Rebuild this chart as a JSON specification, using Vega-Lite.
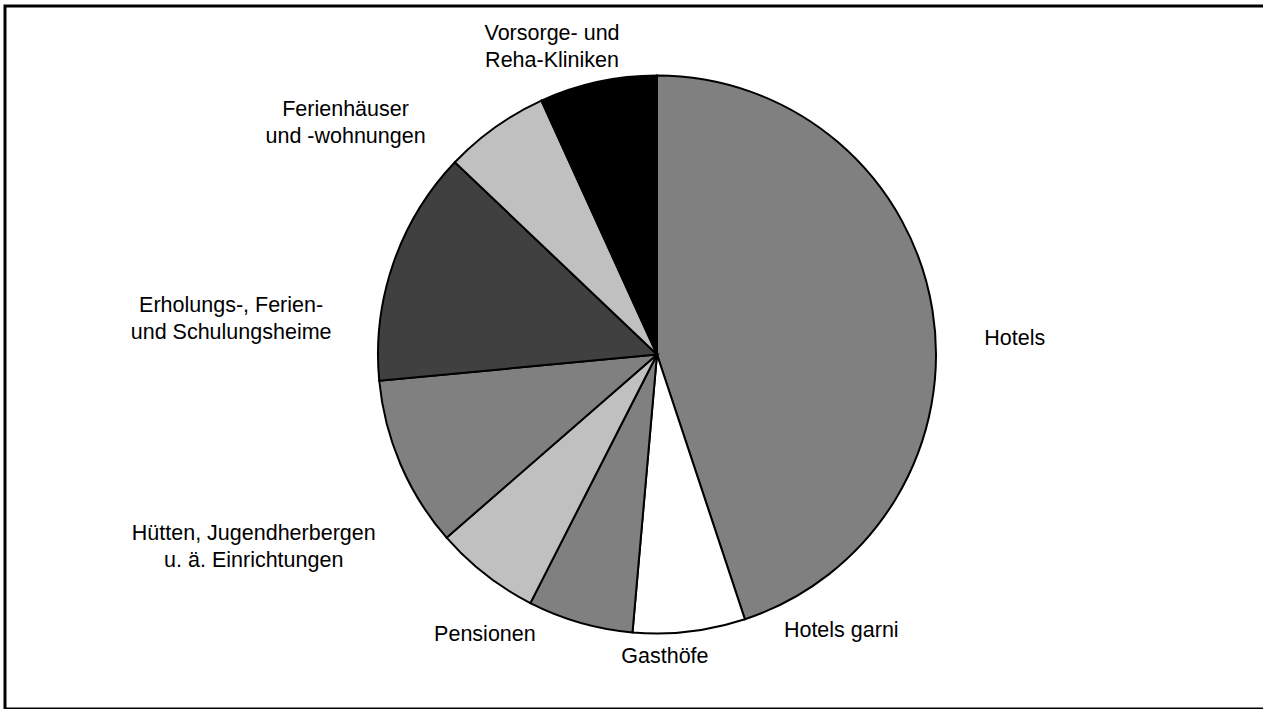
{
  "$schema": "https://vega.github.io/schema/vega-lite/v6.json",
  "width": 1258,
  "height": 703,
  "autosize": {"type": "none"},
  "padding": {"left": 5, "top": 6, "right": 0, "bottom": 0},
  "background": "white",
  "config": {"view": {"stroke": null}},
  "datasets": {
    "anteile": [
      {"Nr": 1, "Art": "Hotels", "Anteil": 44.9},
      {"Nr": 2, "Art": "Hotels garni", "Anteil": 6.5},
      {"Nr": 3, "Art": "Gasthöfe", "Anteil": 6.1},
      {"Nr": 4, "Art": "Pensionen", "Anteil": 6.1},
      {"Nr": 5, "Art": "Hütten, Jugendherbergen\nu. ä. Einrichtungen", "Anteil": 9.9},
      {"Nr": 6, "Art": "Erholungs-, Ferien-\nund Schulungsheime", "Anteil": 13.6},
      {"Nr": 7, "Art": "Ferienhäuser\nund -wohnungen", "Anteil": 6.1},
      {"Nr": 8, "Art": "Vorsorge- und\nReha-Kliniken", "Anteil": 6.8}
    ],
    "rahmen": [{"Rahmen": 1}]
  },
  "layer": [
    {
      "data": {"name": "rahmen"},
      "mark": {"type": "rect", "fill": null, "stroke": "black", "strokeWidth": 3},
      "encoding": {
        "x": {"value": 0},
        "x2": {"value": {"expr": "width + 10"}},
        "y": {"value": 0},
        "y2": {"value": "height"}
      }
    },
    {
      "data": {"name": "anteile"},
      "mark": {
        "type": "arc",
        "outerRadius": 279,
        "stroke": "black",
        "strokeWidth": 2,
        "x": {"expr": "width/2 + 23"},
        "y": {"expr": "height/2 - 3"}
      },
      "encoding": {
        "theta": {"field": "Anteil", "type": "quantitative", "stack": true},
        "order": {"field": "Nr", "type": "quantitative"},
        "color": {
          "field": "Nr",
          "type": "ordinal",
          "scale": {
            "domain": [1, 2, 3, 4, 5, 6, 7, 8],
            "range": ["#808080", "#ffffff", "#808080", "#c0c0c0", "#808080", "#404040", "#c0c0c0", "#000000"]
          },
          "legend": null
        }
      }
    },
    {
      "data": {"name": "anteile"},
      "mark": {
        "type": "text",
        "radius": 330,
        "font": "Liberation Sans",
        "fontSize": 21.5,
        "lineHeight": 27,
        "lineBreak": "\n",
        "align": "center",
        "baseline": "middle",
        "color": "black",
        "x": {"expr": "width/2 + 23"},
        "y": {"expr": "height/2 - 3"},
        "dx": {"expr": "[32, 146, 99, 31, -100, -114, -120, -35][datum.Nr - 1]"},
        "dy": {"expr": "[37, -51, -15, 20, 49, 59, 24, 2][datum.Nr - 1]"}
      },
      "encoding": {
        "theta": {"field": "Anteil", "type": "quantitative", "stack": true},
        "order": {"field": "Nr", "type": "quantitative"},
        "text": {"field": "Art", "type": "nominal"}
      }
    }
  ]
}
